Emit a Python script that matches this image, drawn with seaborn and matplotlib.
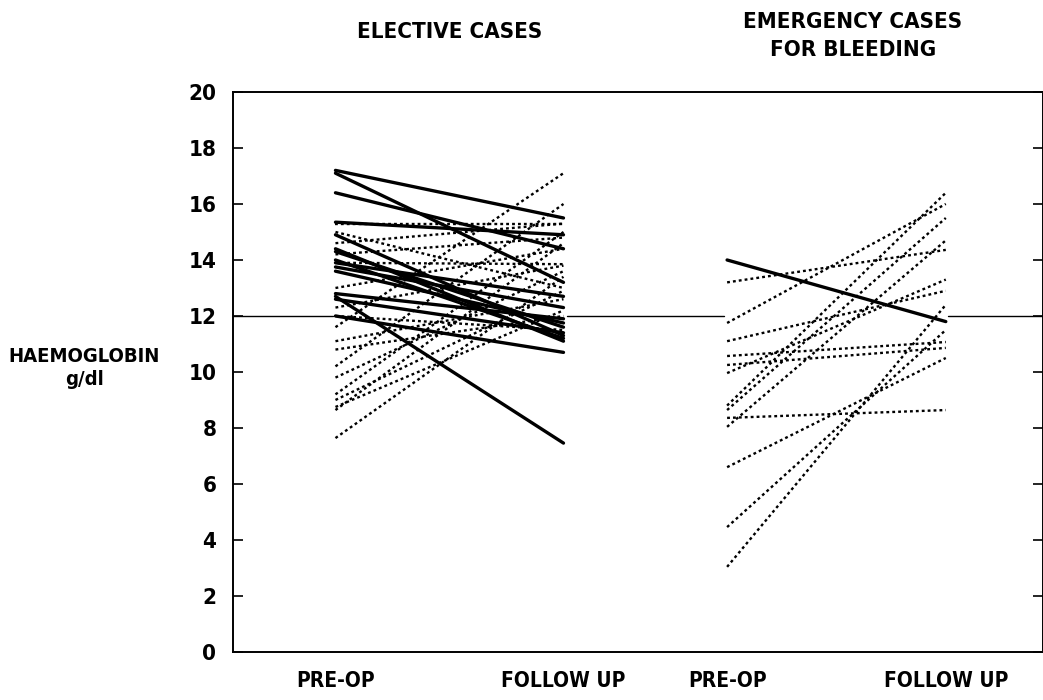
import numpy as np
import pandas as pd
import matplotlib
matplotlib.use("Agg")
import matplotlib.pyplot as plt
import seaborn as sns

sns.set_style("white")
plt.rcParams['font.family'] = ['DejaVu Sans']
plt.rcParams['text.color'] = 'black'
plt.rcParams['xtick.color'] = 'black'
plt.rcParams['ytick.color'] = 'black'
plt.rcParams['font.stretch'] = 'condensed'

# --- data: haemoglobin (g/dl) pre-op and at follow up ---
# elective cases, solid lines
elec_solid_pre = [17.2, 17.1, 16.4, 15.35, 14.9, 14.4, 14.3, 14.0, 13.9, 13.75, 13.6, 12.8, 12.7, 12.6, 12.0]
elec_solid_fu = [15.5, 13.2, 14.4, 14.9, 11.3, 11.1, 11.6, 11.2, 12.7, 12.3, 11.75, 11.9, 7.46, 11.4, 10.7]
# elective cases, dotted lines
elec_dot_pre = [7.64, 8.64, 8.75, 9.0, 9.2, 9.8, 10.2, 11.1, 11.6, 12.3, 13.0, 13.9, 14.6, 15.3, 15.0, 14.2, 12.0, 10.8]
elec_dot_fu = [13.4, 14.6, 12.2, 12.9, 15.0, 13.6, 16.0, 12.6, 17.1, 13.8, 14.4, 13.85, 15.3, 15.3, 13.0, 14.8, 11.5, 12.0]
# emergency cases for bleeding
emer_solid_pre = [14.0]
emer_solid_fu = [11.8]
emer_dot_pre = [13.2, 11.75, 11.1, 10.57, 10.25, 9.96, 8.8, 8.64, 8.36, 8.04, 6.6, 4.46, 3.04]
emer_dot_fu = [14.36, 16.0, 12.9, 11.07, 10.86, 13.3, 16.4, 15.5, 8.64, 14.7, 10.5, 11.5, 12.4]

tick_labels = ["PRE-OP", "FOLLOW UP", "PRE-OP", "FOLLOW UP"]
x_pos = [1.265, 4.08, 6.1, 8.8]   # horizontal placement of the four time points

rows = []
uid = 0
for pre, fu, kind, (x0, x1) in [
    (elec_solid_pre, elec_solid_fu, "solid", (x_pos[0], x_pos[1])),
    (elec_dot_pre, elec_dot_fu, "dotted", (x_pos[0], x_pos[1])),
    (emer_solid_pre, emer_solid_fu, "solid", (x_pos[2], x_pos[3])),
    (emer_dot_pre, emer_dot_fu, "dotted", (x_pos[2], x_pos[3])),
]:
    for a, b in zip(pre, fu):
        rows.append({"id": uid, "kind": kind, "x": x0, "hb": a})
        rows.append({"id": uid, "kind": kind, "x": x1, "hb": b})
        uid += 1
df = pd.DataFrame(rows)

fig = plt.figure(figsize=(10.43, 7.0), dpi=100)
ax = fig.add_axes([0.2234, 0.0686, 0.7766, 0.8])

sns.lineplot(data=df[df.kind == "dotted"], x="x", y="hb", units="id", estimator=None,
             color="black", linewidth=1.7, linestyle=(0, (1.2, 1.3)), ax=ax, legend=False)
sns.lineplot(data=df[df.kind == "solid"], x="x", y="hb", units="id", estimator=None,
             color="black", linewidth=2.4, ax=ax, legend=False)

# normal level reference at 12 g/dl, broken where the groups sit
ax.plot([0, x_pos[0] - 0.03], [12, 12], color="black", lw=1.0)
ax.plot([x_pos[1] + 0.04, x_pos[2] - 0.04], [12, 12], color="black", lw=1.0)
ax.plot([x_pos[3] + 0.03, 10], [12, 12], color="black", lw=1.0)

ax.set_xlim(0, 10)
ax.set_ylim(0, 20)
ax.set_yticks(range(0, 21, 2))
ax.set_yticklabels([str(v) for v in range(0, 21, 2)], fontsize=16, fontweight="heavy")
ax.set_xticks(x_pos)
ax.set_xticklabels(tick_labels, fontsize=15, fontweight="heavy")
ax.tick_params(axis="x", length=0, pad=14)
ax.tick_params(axis="y", direction="in", length=7, width=1.2, pad=12,
               right=True, left=True)
for s in ax.spines.values():
    s.set_linewidth(1.4)
    s.set_color("black")
ax.set_xlabel("")
ax.set_ylabel("")

fig.text(84 / 1043, 1 - 368 / 700, "HAEMOGLOBIN\ng/dl", ha="center", va="center",
         fontsize=14.5, fontweight="heavy", linespacing=1.3)
fig.text(450 / 1043, 1 - 32 / 700, "ELECTIVE CASES", ha="center", va="center",
         fontsize=16, fontweight="heavy")
fig.text(853 / 1043, 1 - 36 / 700, "EMERGENCY CASES\nFOR BLEEDING", ha="center", va="center",
         fontsize=16, fontweight="heavy", linespacing=1.45)

fig.savefig("out.png", dpi=100)
